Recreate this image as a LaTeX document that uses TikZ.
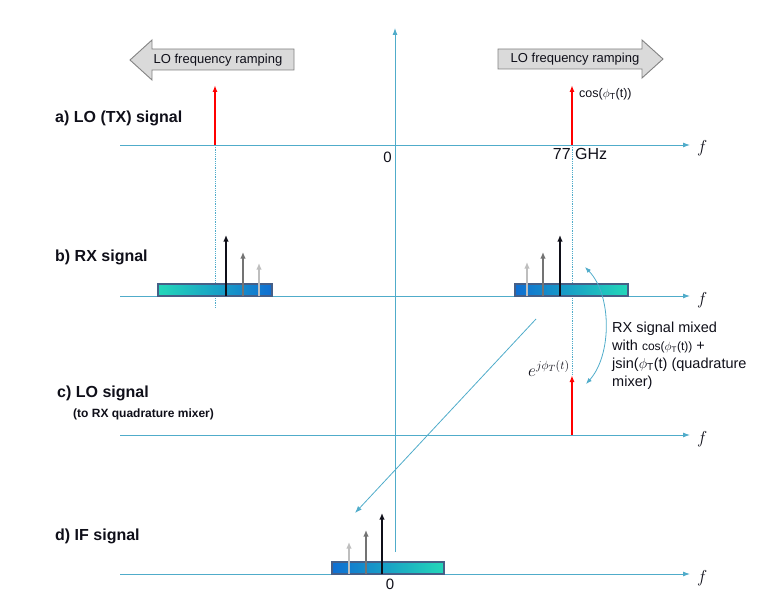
\documentclass[tikz,border=0pt]{standalone}
\usepackage{fontspec}
\setmainfont{Liberation Sans}
\usetikzlibrary{arrows.meta,positioning,calc}
\definecolor{axisblue}{RGB}{80,172,202}
\definecolor{barteal}{RGB}{35,215,185}
\definecolor{barcyan}{RGB}{40,195,228}
\definecolor{barblue}{RGB}{15,110,210}
\definecolor{barrim}{RGB}{70,95,135}
\definecolor{rampfill}{RGB}{218,218,218}
\definecolor{rampedge}{RGB}{130,130,130}
\definecolor{ink}{RGB}{15,15,25}
\definecolor{tonegray}{RGB}{115,115,115}
\definecolor{tonelight}{RGB}{190,190,190}

\begin{document}
\begin{tikzpicture}[x=1pt,y=-1pt,
  axis/.style={axisblue, line width=0.9pt, -{Latex[length=7pt,width=5pt]}},
  guide/.style={axisblue, densely dotted, line width=0.8pt},
  lotone/.style={red, line width=1.8pt, -{Latex[length=7pt,width=5pt]}},
  tone/.style={line width=1.4pt, -{Latex[length=6.5pt,width=5.5pt]}},
  rxbar/.style={draw=barrim, line width=1.2pt},
  ramp/.style={draw=rampedge, fill=rampfill, line width=0.9pt},
  lbl/.style={ink, font=\fontsize{16}{19}\selectfont\bfseries, inner sep=0pt},
  axlbl/.style={ink, font=\fontsize{15}{18}\selectfont, inner sep=0pt}]
  \useasboundingbox (0,0) rectangle (771,599);
  % axis end points
  \coordinate (aL) at (120,145); \coordinate (aR) at (690,145);
  \coordinate (bL) at (120,296); \coordinate (bR) at (690,296);
  \coordinate (cL) at (120,435); \coordinate (cR) at (690,435);
  \coordinate (dL) at (120,574); \coordinate (dR) at (690,574);
  \coordinate (vB) at (395,552); \coordinate (vT) at (395,28);
  % ramp arrows
  \draw[ramp] (294,49) -- (152,49) -- (152,40) -- (130,60) -- (152,80) -- (152,70) -- (294,70) -- cycle;
  \node[ink, font=\fontsize{13}{15}\selectfont] (rampL) at (218,60) {LO frequency ramping};
  \draw[ramp] (498,49) -- (642,49) -- (642,40) -- (663,59) -- (642,78) -- (642,69) -- (498,69) -- cycle;
  \node[ink, font=\fontsize{13}{15}\selectfont] (rampR) at (575,59) {LO frequency ramping};
  % dotted guides
  \draw[guide] (215,145) -- (215,308);
  \draw[guide] (572,145) -- (572,375);
  % axes
  \foreach \r in {a,b,c,d} \draw[axis] (\r L) -- (\r R);
  \draw[axis] (vB) -- (vT);
  \foreach \r/\y in {a/153,b/304,c/443,d/582}
    \node[axlbl, anchor=base west, font=\fontsize{19}{22}\selectfont] (f\r) at (697,\y) {$f$};
  % a) LO (TX) signal
  \node[lbl, anchor=base west] (lblA) at (55,123) {a) LO (TX) signal};
  \draw[lotone] (215,145) -- (215,85);
  \draw[lotone] (572,145) -- (572,85);
  \node[ink, font=\fontsize{12.5}{15}\selectfont, anchor=base west, inner sep=0pt] (cosA) at (579,98) {cos($\phi_{\mathrm{T}}$(t))};
  \node[axlbl, anchor=base east] (zeroA) at (392,162) {0};
  \node[axlbl, anchor=base, font=\fontsize{16}{18}\selectfont] (ghz) at (580,160) {77 GHz};
  % b) RX signal
  \node[lbl, anchor=base west] (lblB) at (55,261) {b) RX signal};
  \path[rxbar, left color=barteal, middle color=barcyan, right color=barblue] (158,284) rectangle (272,296);
  \path[rxbar, left color=barblue, middle color=barcyan, right color=barteal] (515,284) rectangle (628,296);
  \foreach \x/\t/\c in {226/235/ink,243/252/tonegray,259/263/tonelight,527/262/tonelight,543/252/tonegray,560/235/ink}
    \draw[tone, \c] (\x,296) -- (\x,\t);
  % mixing note
  \coordinate (mixT) at (585,267); \coordinate (mixB) at (586,384);
  \draw[axisblue, line width=0.8pt, {Latex[length=6pt,width=4.5pt]}-{Latex[length=6pt,width=4.5pt]}]
    (mixB) .. controls (612,355) and (612,295) .. (mixT);
  \node[ink, font=\fontsize{14.5}{18}\selectfont, align=left, anchor=north west, inner sep=0pt] (mixtxt) at (612,322)
    {RX signal mixed\\with {\fontsize{12}{14}\selectfont cos($\phi_{\mathrm{T}}$(t))} +\\jsin($\phi_{\mathrm{T}}$(t) (quadrature\\mixer)};
  \node[ink, anchor=base west, inner sep=0pt, font=\fontsize{18}{21}\selectfont] (expo) at (528,376) {$e^{j\phi_T(t)}$};
  % c) LO signal
  \node[lbl, anchor=base west] (lblC) at (57,397) {c) LO signal};
  \node[ink, font=\fontsize{12}{14}\selectfont\bfseries, anchor=base west, inner sep=0pt] (lblC2) at (73,417) {(to RX quadrature mixer)};
  \draw[lotone] (572,435) -- (572,375);
  % down-conversion
  \coordinate (dcS) at (536,319); \coordinate (dcE) at (355,513);
  \draw[axisblue, line width=0.8pt, -{Latex[length=7pt,width=5pt]}] (dcS) -- (dcE);
  % d) IF signal
  \node[lbl, anchor=base west] (lblD) at (55,540) {d) IF signal};
  \path[rxbar, left color=barblue, middle color=barcyan, right color=barteal] (332,562) rectangle (444,574);
  \foreach \x/\t/\c in {349/542/tonelight,366/530/tonegray,382/513/ink}
    \draw[tone, \c] (\x,574) -- (\x,\t);
  \node[axlbl, anchor=base] (zeroD) at (390,589) {0};
\end{tikzpicture}
\end{document}
